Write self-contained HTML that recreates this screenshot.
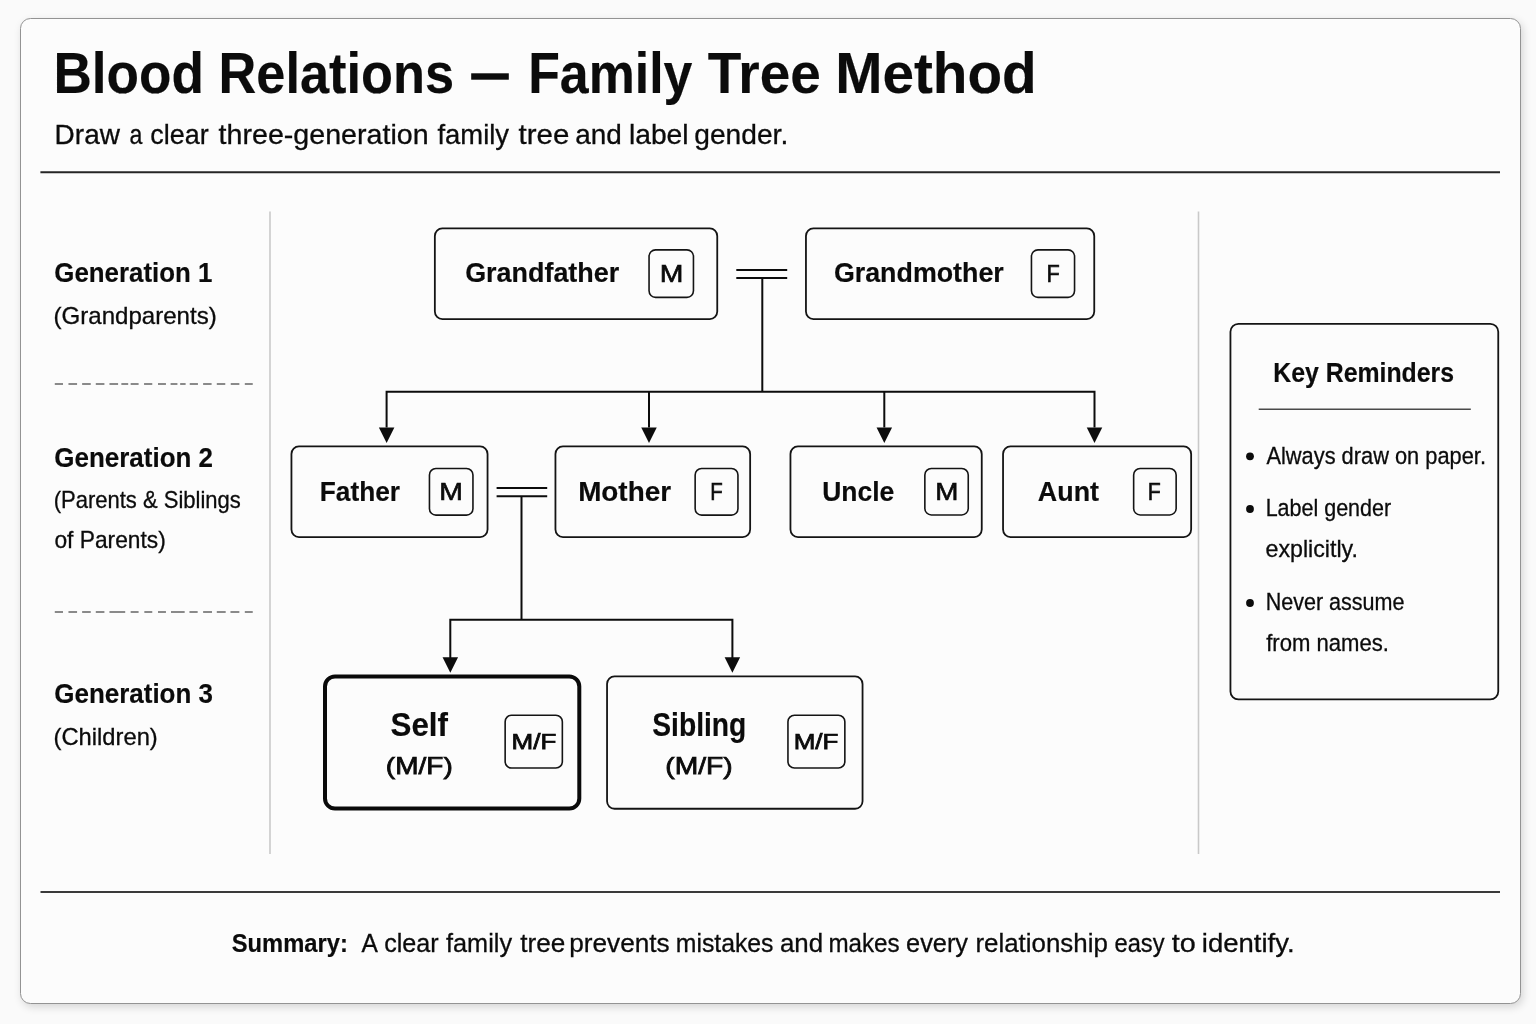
<!DOCTYPE html>
<html><head><meta charset="utf-8">
<style>
html,body{margin:0;padding:0;}
body{width:1536px;height:1024px;background:#fafafa;position:relative;overflow:hidden;font-family:"Liberation Sans",sans-serif;}
.card{position:absolute;box-sizing:border-box;left:19.6px;top:17.6px;width:1501px;height:986.2px;border:1.8px solid #939393;border-radius:10.5px;background:#fcfcfc;box-shadow:2px 3px 9px rgba(0,0,0,0.15);}
svg{position:absolute;left:0;top:0;will-change:transform;}
svg text{font-family:"Liberation Sans",sans-serif;}
</style></head><body>
<div class="card"></div>
<svg width="1536" height="1024" viewBox="0 0 1536 1024">
<text x="53.44" y="92.50" font-size="58.14" font-weight="bold" fill="#0b0b0b" textLength="150.56" lengthAdjust="spacingAndGlyphs" stroke="#0b0b0b" stroke-width="0.18">Blood</text>
<text x="218.50" y="92.50" font-size="58.14" font-weight="bold" fill="#0b0b0b" textLength="235.65" lengthAdjust="spacingAndGlyphs" stroke="#0b0b0b" stroke-width="0.18">Relations</text>
<text x="528.13" y="92.50" font-size="58.14" font-weight="bold" fill="#0b0b0b" textLength="164.25" lengthAdjust="spacingAndGlyphs" stroke="#0b0b0b" stroke-width="0.18">Family</text>
<text x="707.80" y="92.50" font-size="58.14" font-weight="bold" fill="#0b0b0b" textLength="113.03" lengthAdjust="spacingAndGlyphs" stroke="#0b0b0b" stroke-width="0.18">Tree</text>
<text x="835.21" y="92.50" font-size="58.14" font-weight="bold" fill="#0b0b0b" textLength="201.53" lengthAdjust="spacingAndGlyphs" stroke="#0b0b0b" stroke-width="0.18">Method</text>
<rect x="471.2" y="73.3" width="37.6" height="6.4" fill="#0b0b0b"/>
<text x="54.60" y="144.00" font-size="27.63" font-weight="normal" fill="#0b0b0b" textLength="65.33" lengthAdjust="spacingAndGlyphs" stroke="#0b0b0b" stroke-width="0.30">Draw</text>
<text x="129.42" y="144.00" font-size="27.63" font-weight="normal" fill="#0b0b0b" textLength="12.88" lengthAdjust="spacingAndGlyphs" stroke="#0b0b0b" stroke-width="0.30">a</text>
<text x="150.25" y="144.00" font-size="27.63" font-weight="normal" fill="#0b0b0b" textLength="58.49" lengthAdjust="spacingAndGlyphs" stroke="#0b0b0b" stroke-width="0.30">clear</text>
<text x="218.57" y="144.00" font-size="27.63" font-weight="normal" fill="#0b0b0b" textLength="210.09" lengthAdjust="spacingAndGlyphs" stroke="#0b0b0b" stroke-width="0.30">three-generation</text>
<text x="437.41" y="144.00" font-size="27.63" font-weight="normal" fill="#0b0b0b" textLength="71.64" lengthAdjust="spacingAndGlyphs" stroke="#0b0b0b" stroke-width="0.30">family</text>
<text x="518.55" y="144.00" font-size="27.63" font-weight="normal" fill="#0b0b0b" textLength="50.75" lengthAdjust="spacingAndGlyphs" stroke="#0b0b0b" stroke-width="0.30">tree</text>
<text x="575.21" y="144.00" font-size="27.63" font-weight="normal" fill="#0b0b0b" textLength="46.59" lengthAdjust="spacingAndGlyphs" stroke="#0b0b0b" stroke-width="0.30">and</text>
<text x="628.90" y="144.00" font-size="27.63" font-weight="normal" fill="#0b0b0b" textLength="59.69" lengthAdjust="spacingAndGlyphs" stroke="#0b0b0b" stroke-width="0.30">label</text>
<text x="694.24" y="144.00" font-size="27.63" font-weight="normal" fill="#0b0b0b" textLength="93.99" lengthAdjust="spacingAndGlyphs" stroke="#0b0b0b" stroke-width="0.30">gender.</text>
<line x1="40.4" y1="172.2" x2="1500" y2="172.2" stroke="#262626" stroke-width="2"/>
<text x="54.34" y="282.30" font-size="28.20" font-weight="bold" fill="#0b0b0b" textLength="157.98" lengthAdjust="spacingAndGlyphs" stroke="#0b0b0b" stroke-width="0.18">Generation 1</text>
<text x="53.51" y="324.00" font-size="23.40" font-weight="normal" fill="#0b0b0b" textLength="163.18" lengthAdjust="spacingAndGlyphs" stroke="#0b0b0b" stroke-width="0.30">(Grandparents)</text>
<path d="M54.79 384.00 H62.99 M68.46 384.00 H77.07 M82.13 384.00 H90.74 M95.80 384.00 H104.41 M109.47 384.00 H118.09 M121.37 384.00 H128.20 M130.66 384.00 H138.59 M144.06 384.00 H152.27 M158.01 384.00 H165.94 M170.59 384.00 H177.42 M180.16 384.00 H185.62 M189.73 384.00 H197.93 M203.12 384.00 H211.60 M216.80 384.00 H225.27 M230.74 384.00 H239.36 M244.82 384.00 H252.75" stroke="#8a8a8a" stroke-width="1.8" fill="none"/>
<text x="54.34" y="466.80" font-size="28.20" font-weight="bold" fill="#0b0b0b" textLength="158.70" lengthAdjust="spacingAndGlyphs" stroke="#0b0b0b" stroke-width="0.18">Generation 2</text>
<text x="53.63" y="507.70" font-size="23.40" font-weight="normal" fill="#0b0b0b" textLength="187.26" lengthAdjust="spacingAndGlyphs" stroke="#0b0b0b" stroke-width="0.30">(Parents &amp; Siblings</text>
<text x="54.44" y="548.00" font-size="23.40" font-weight="normal" fill="#0b0b0b" textLength="111.27" lengthAdjust="spacingAndGlyphs" stroke="#0b0b0b" stroke-width="0.30">of Parents)</text>
<path d="M54.79 612.00 H62.99 M68.46 612.00 H77.07 M82.13 612.00 H90.74 M95.80 612.00 H104.41 M109.47 612.00 H125.20 M130.66 612.00 H138.59 M144.34 612.00 H152.27 M158.01 612.00 H165.94 M171.00 612.00 H184.67 M189.45 612.00 H197.66 M203.12 612.00 H212.01 M216.80 612.00 H225.68 M230.47 612.00 H239.36 M244.82 612.00 H252.75" stroke="#8a8a8a" stroke-width="1.8" fill="none"/>
<text x="54.34" y="703.40" font-size="28.20" font-weight="bold" fill="#0b0b0b" textLength="158.60" lengthAdjust="spacingAndGlyphs" stroke="#0b0b0b" stroke-width="0.18">Generation 3</text>
<text x="53.53" y="744.60" font-size="23.40" font-weight="normal" fill="#0b0b0b" textLength="104.24" lengthAdjust="spacingAndGlyphs" stroke="#0b0b0b" stroke-width="0.30">(Children)</text>
<line x1="270" y1="211.5" x2="270" y2="854" stroke="#c9c9c9" stroke-width="1.6"/>
<line x1="1198.5" y1="211.5" x2="1198.5" y2="854" stroke="#c9c9c9" stroke-width="1.6"/>
<rect x="434.85" y="228.45" width="282.40" height="90.60" rx="7.5" fill="none" stroke="#141414" stroke-width="1.80"/>
<rect x="649.05" y="249.85" width="44.40" height="47.50" rx="6.5" fill="none" stroke="#141414" stroke-width="1.60"/>
<text x="465.20" y="282.30" font-size="28.20" font-weight="bold" fill="#0b0b0b" textLength="154.01" lengthAdjust="spacingAndGlyphs" stroke="#0b0b0b" stroke-width="0.18">Grandfather</text>
<text x="659.77" y="282.30" font-size="23.26" font-weight="normal" fill="#0b0b0b" textLength="23.66" lengthAdjust="spacingAndGlyphs" stroke="#0b0b0b" stroke-width="0.60">M</text>
<rect x="805.95" y="228.45" width="288.30" height="90.60" rx="7.5" fill="none" stroke="#141414" stroke-width="1.80"/>
<rect x="1031.45" y="249.85" width="43.10" height="47.50" rx="6.5" fill="none" stroke="#141414" stroke-width="1.60"/>
<text x="833.90" y="282.30" font-size="28.20" font-weight="bold" fill="#0b0b0b" textLength="169.91" lengthAdjust="spacingAndGlyphs" stroke="#0b0b0b" stroke-width="0.18">Grandmother</text>
<text x="1046.62" y="282.30" font-size="23.26" font-weight="normal" fill="#0b0b0b" textLength="13.25" lengthAdjust="spacingAndGlyphs" stroke="#0b0b0b" stroke-width="0.60">F</text>
<line x1="736.3" y1="270" x2="787.2" y2="270" stroke="#0c0c0c" stroke-width="2"/>
<line x1="736.3" y1="278" x2="787.2" y2="278" stroke="#0c0c0c" stroke-width="2"/>
<line x1="762.3" y1="278" x2="762.3" y2="391.7" stroke="#0c0c0c" stroke-width="2"/>
<path d="M386.6 427.5 V391.7 H1094.5 V427.5" fill="none" stroke="#0c0c0c" stroke-width="2"/>
<line x1="649.0" y1="391.7" x2="649.0" y2="427.5" stroke="#0c0c0c" stroke-width="2"/>
<line x1="884.3" y1="391.7" x2="884.3" y2="427.5" stroke="#0c0c0c" stroke-width="2"/>
<path d="M378.85 427.40 L394.35 427.40 L386.60 443.00 Z" fill="#0c0c0c"/>
<path d="M641.25 427.40 L656.75 427.40 L649.00 443.00 Z" fill="#0c0c0c"/>
<path d="M876.55 427.40 L892.05 427.40 L884.30 443.00 Z" fill="#0c0c0c"/>
<path d="M1086.75 427.40 L1102.25 427.40 L1094.50 443.00 Z" fill="#0c0c0c"/>
<rect x="291.45" y="446.45" width="196.10" height="90.60" rx="7.5" fill="none" stroke="#141414" stroke-width="1.80"/>
<rect x="429.45" y="468.45" width="43.50" height="46.70" rx="6.5" fill="none" stroke="#141414" stroke-width="1.60"/>
<text x="319.84" y="501.00" font-size="28.20" font-weight="bold" fill="#0b0b0b" textLength="80.25" lengthAdjust="spacingAndGlyphs" stroke="#0b0b0b" stroke-width="0.18">Father</text>
<text x="439.27" y="500.30" font-size="23.26" font-weight="normal" fill="#0b0b0b" textLength="23.66" lengthAdjust="spacingAndGlyphs" stroke="#0b0b0b" stroke-width="0.60">M</text>
<rect x="555.45" y="446.45" width="194.70" height="90.60" rx="7.5" fill="none" stroke="#141414" stroke-width="1.80"/>
<rect x="695.15" y="468.45" width="42.80" height="46.70" rx="6.5" fill="none" stroke="#141414" stroke-width="1.60"/>
<text x="578.14" y="501.00" font-size="28.20" font-weight="bold" fill="#0b0b0b" textLength="92.89" lengthAdjust="spacingAndGlyphs" stroke="#0b0b0b" stroke-width="0.18">Mother</text>
<text x="710.32" y="500.30" font-size="23.26" font-weight="normal" fill="#0b0b0b" textLength="12.50" lengthAdjust="spacingAndGlyphs" stroke="#0b0b0b" stroke-width="0.60">F</text>
<rect x="790.45" y="446.45" width="191.30" height="90.60" rx="7.5" fill="none" stroke="#141414" stroke-width="1.80"/>
<rect x="924.85" y="468.45" width="43.40" height="46.50" rx="6.5" fill="none" stroke="#141414" stroke-width="1.60"/>
<text x="822.21" y="501.30" font-size="28.20" font-weight="bold" fill="#0b0b0b" textLength="71.99" lengthAdjust="spacingAndGlyphs" stroke="#0b0b0b" stroke-width="0.18">Uncle</text>
<text x="935.32" y="500.30" font-size="23.26" font-weight="normal" fill="#0b0b0b" textLength="23.16" lengthAdjust="spacingAndGlyphs" stroke="#0b0b0b" stroke-width="0.60">M</text>
<rect x="1003.05" y="446.45" width="188.10" height="90.60" rx="7.5" fill="none" stroke="#141414" stroke-width="1.80"/>
<rect x="1133.65" y="468.45" width="42.50" height="46.50" rx="6.5" fill="none" stroke="#141414" stroke-width="1.60"/>
<text x="1037.83" y="501.30" font-size="28.20" font-weight="bold" fill="#0b0b0b" textLength="61.20" lengthAdjust="spacingAndGlyphs" stroke="#0b0b0b" stroke-width="0.18">Aunt</text>
<text x="1147.85" y="500.30" font-size="23.26" font-weight="normal" fill="#0b0b0b" textLength="13.00" lengthAdjust="spacingAndGlyphs" stroke="#0b0b0b" stroke-width="0.60">F</text>
<line x1="496.6" y1="488" x2="547.2" y2="488" stroke="#0c0c0c" stroke-width="2"/>
<line x1="496.6" y1="496.3" x2="547.2" y2="496.3" stroke="#0c0c0c" stroke-width="2"/>
<line x1="521.5" y1="496.3" x2="521.5" y2="619.8" stroke="#0c0c0c" stroke-width="2"/>
<path d="M450.3 658 V619.8 H732.4 V658" fill="none" stroke="#0c0c0c" stroke-width="2"/>
<path d="M442.55 657.20 L458.05 657.20 L450.30 672.80 Z" fill="#0c0c0c"/>
<path d="M724.65 657.20 L740.15 657.20 L732.40 672.80 Z" fill="#0c0c0c"/>
<rect x="325.00" y="676.40" width="254.30" height="132.10" rx="10.0" fill="none" stroke="#0a0a0a" stroke-width="4.00"/>
<rect x="505.15" y="715.25" width="57.20" height="52.80" rx="6.5" fill="none" stroke="#141414" stroke-width="1.60"/>
<text x="390.50" y="735.60" font-size="32.99" font-weight="bold" fill="#0b0b0b" textLength="57.44" lengthAdjust="spacingAndGlyphs" stroke="#0b0b0b" stroke-width="0.18">Self</text>
<text x="385.86" y="773.90" font-size="23.26" font-weight="normal" fill="#0b0b0b" textLength="66.87" lengthAdjust="spacingAndGlyphs" stroke="#0b0b0b" stroke-width="0.75">(M/F)</text>
<text x="511.57" y="749.20" font-size="21.15" font-weight="normal" fill="#0b0b0b" textLength="44.77" lengthAdjust="spacingAndGlyphs" stroke="#0b0b0b" stroke-width="0.75">M/F</text>
<rect x="607.05" y="676.45" width="255.50" height="132.30" rx="7.5" fill="none" stroke="#141414" stroke-width="1.80"/>
<rect x="787.95" y="715.25" width="56.90" height="52.80" rx="6.5" fill="none" stroke="#141414" stroke-width="1.60"/>
<text x="652.19" y="735.60" font-size="32.99" font-weight="bold" fill="#0b0b0b" textLength="94.20" lengthAdjust="spacingAndGlyphs" stroke="#0b0b0b" stroke-width="0.18">Sibling</text>
<text x="665.25" y="773.90" font-size="23.26" font-weight="normal" fill="#0b0b0b" textLength="67.51" lengthAdjust="spacingAndGlyphs" stroke="#0b0b0b" stroke-width="0.75">(M/F)</text>
<text x="793.67" y="749.20" font-size="21.15" font-weight="normal" fill="#0b0b0b" textLength="44.77" lengthAdjust="spacingAndGlyphs" stroke="#0b0b0b" stroke-width="0.75">M/F</text>
<rect x="1230.45" y="323.85" width="267.80" height="375.60" rx="8.0" fill="none" stroke="#141414" stroke-width="1.80"/>
<text x="1273.34" y="382.00" font-size="27.63" font-weight="bold" fill="#0b0b0b" textLength="180.68" lengthAdjust="spacingAndGlyphs" stroke="#0b0b0b" stroke-width="0.18">Key Reminders</text>
<line x1="1258.7" y1="409.3" x2="1470.8" y2="409.3" stroke="#4a4a4a" stroke-width="1.4"/>
<circle cx="1250" cy="456.3" r="3.9" fill="#0c0c0c"/>
<circle cx="1250" cy="509.0" r="3.9" fill="#0c0c0c"/>
<circle cx="1250" cy="603.0" r="3.9" fill="#0c0c0c"/>
<text x="1266.46" y="463.50" font-size="23.69" font-weight="normal" fill="#0b0b0b" textLength="219.52" lengthAdjust="spacingAndGlyphs" stroke="#0b0b0b" stroke-width="0.30">Always draw on paper.</text>
<text x="1265.64" y="516.20" font-size="23.69" font-weight="normal" fill="#0b0b0b" textLength="125.52" lengthAdjust="spacingAndGlyphs" stroke="#0b0b0b" stroke-width="0.30">Label gender</text>
<text x="1265.53" y="556.80" font-size="23.69" font-weight="normal" fill="#0b0b0b" textLength="92.45" lengthAdjust="spacingAndGlyphs" stroke="#0b0b0b" stroke-width="0.30">explicitly.</text>
<text x="1265.63" y="610.00" font-size="23.69" font-weight="normal" fill="#0b0b0b" textLength="138.82" lengthAdjust="spacingAndGlyphs" stroke="#0b0b0b" stroke-width="0.30">Never assume</text>
<text x="1266.19" y="651.20" font-size="23.69" font-weight="normal" fill="#0b0b0b" textLength="122.83" lengthAdjust="spacingAndGlyphs" stroke="#0b0b0b" stroke-width="0.30">from names.</text>
<line x1="40.5" y1="892" x2="1500" y2="892" stroke="#3a3a3a" stroke-width="2"/>
<text x="231.72" y="952.00" font-size="26.08" font-weight="bold" fill="#0b0b0b" textLength="116.07" lengthAdjust="spacingAndGlyphs" stroke="#0b0b0b" stroke-width="0.18">Summary:</text>
<text x="361.55" y="952.00" font-size="26.08" font-weight="normal" fill="#0b0b0b" textLength="16.40" lengthAdjust="spacingAndGlyphs" stroke="#0b0b0b" stroke-width="0.30">A</text>
<text x="384.23" y="952.00" font-size="26.08" font-weight="normal" fill="#0b0b0b" textLength="54.49" lengthAdjust="spacingAndGlyphs" stroke="#0b0b0b" stroke-width="0.30">clear</text>
<text x="446.04" y="952.00" font-size="26.08" font-weight="normal" fill="#0b0b0b" textLength="66.01" lengthAdjust="spacingAndGlyphs" stroke="#0b0b0b" stroke-width="0.30">family</text>
<text x="520.21" y="952.00" font-size="26.08" font-weight="normal" fill="#0b0b0b" textLength="44.95" lengthAdjust="spacingAndGlyphs" stroke="#0b0b0b" stroke-width="0.30">tree</text>
<text x="569.21" y="952.00" font-size="26.08" font-weight="normal" fill="#0b0b0b" textLength="100.43" lengthAdjust="spacingAndGlyphs" stroke="#0b0b0b" stroke-width="0.30">prevents</text>
<text x="675.75" y="952.00" font-size="26.08" font-weight="normal" fill="#0b0b0b" textLength="97.74" lengthAdjust="spacingAndGlyphs" stroke="#0b0b0b" stroke-width="0.30">mistakes</text>
<text x="779.90" y="952.00" font-size="26.08" font-weight="normal" fill="#0b0b0b" textLength="43.17" lengthAdjust="spacingAndGlyphs" stroke="#0b0b0b" stroke-width="0.30">and</text>
<text x="828.39" y="952.00" font-size="26.08" font-weight="normal" fill="#0b0b0b" textLength="71.28" lengthAdjust="spacingAndGlyphs" stroke="#0b0b0b" stroke-width="0.30">makes</text>
<text x="906.12" y="952.00" font-size="26.08" font-weight="normal" fill="#0b0b0b" textLength="61.93" lengthAdjust="spacingAndGlyphs" stroke="#0b0b0b" stroke-width="0.30">every</text>
<text x="975.48" y="952.00" font-size="26.08" font-weight="normal" fill="#0b0b0b" textLength="132.30" lengthAdjust="spacingAndGlyphs" stroke="#0b0b0b" stroke-width="0.30">relationship</text>
<text x="1114.49" y="952.00" font-size="26.08" font-weight="normal" fill="#0b0b0b" textLength="50.05" lengthAdjust="spacingAndGlyphs" stroke="#0b0b0b" stroke-width="0.30">easy</text>
<text x="1171.76" y="952.00" font-size="26.08" font-weight="normal" fill="#0b0b0b" textLength="24.05" lengthAdjust="spacingAndGlyphs" stroke="#0b0b0b" stroke-width="0.30">to</text>
<text x="1201.80" y="952.00" font-size="26.08" font-weight="normal" fill="#0b0b0b" textLength="92.76" lengthAdjust="spacingAndGlyphs" stroke="#0b0b0b" stroke-width="0.30">identify.</text>
</svg>
</body></html>
